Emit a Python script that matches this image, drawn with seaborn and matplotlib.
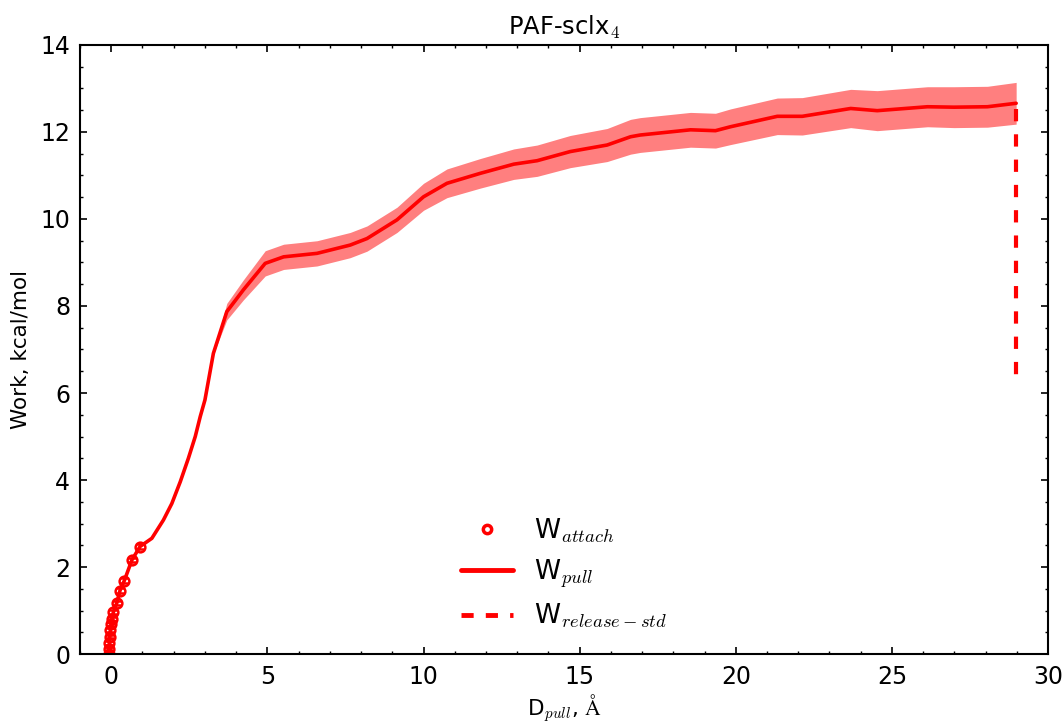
import numpy as np
import pandas as pd
import matplotlib
matplotlib.use("Agg")
import matplotlib.pyplot as plt
import seaborn as sns
from matplotlib.ticker import MultipleLocator
from matplotlib.lines import Line2D

# ---- data ----
attach_x = [-0.07, -0.07, -0.06, -0.05, -0.03, 0.0, 0.02, 0.07, 0.18, 0.28, 0.42, 0.66, 0.92]
attach_y = [0.0, 0.12, 0.25, 0.40, 0.55, 0.69, 0.80, 0.97, 1.18, 1.46, 1.69, 2.16, 2.47]
attach_err = [0.04, 0.04, 0.04, 0.04, 0.04, 0.04, 0.04, 0.05, 0.05, 0.05, 0.05, 0.05, 0.05]

pull_x = [0.92, 1.30, 1.67, 1.94, 2.21, 2.47, 2.69, 2.85, 3.0, 3.27, 3.70, 4.23, 4.93,
          5.52, 6.59, 7.65, 8.19, 9.15, 10.0, 10.75, 11.82, 12.89, 13.64, 14.7, 15.88,
          16.63, 16.94, 18.55, 19.35, 19.83, 21.33, 22.13, 23.68, 24.53, 26.14, 26.99,
          28.06, 28.98]
pull_y = [2.47, 2.66, 3.08, 3.46, 3.96, 4.50, 5.0, 5.46, 5.84, 6.91, 7.87, 8.37, 8.98,
          9.13, 9.21, 9.40, 9.55, 9.98, 10.51, 10.82, 11.05, 11.26, 11.34, 11.55, 11.70,
          11.89, 11.93, 12.05, 12.03, 12.12, 12.36, 12.36, 12.54, 12.49, 12.58, 12.57,
          12.58, 12.66]
pull_err = [0, 0, 0, 0, 0, 0, 0, 0, 0, 0.02, 0.19, 0.23, 0.29, 0.29, 0.29, 0.29, 0.29,
            0.29, 0.31, 0.33, 0.34, 0.35, 0.36, 0.37, 0.38, 0.40, 0.40, 0.40, 0.40, 0.41,
            0.42, 0.43, 0.44, 0.46, 0.46, 0.47, 0.47, 0.48]

release_x = [28.98, 28.98]
release_y = [12.52, 6.40]

title = "PAF-sclx$_4$"
xlabel = "D$_{pull}$, $\\mathrm{\\AA}$"
ylabel = "Work, kcal/mol"
labels = ["W$_{attach}$", "W$_{pull}$", "W$_{release-std}$"]

# ---- style ----
sns.set_theme(style="white")
plt.rcParams.update({
    "font.family": ["DejaVu Sans"],
    "mathtext.fontset": "cm",
    "text.color": "black",
    "axes.labelcolor": "black",
    "axes.titlecolor": "black",
    "xtick.color": "black",
    "ytick.color": "black",
    "axes.edgecolor": "black",
    "axes.linewidth": 1.5,
    "xtick.direction": "in",
    "ytick.direction": "in",
    "xtick.top": True,
    "ytick.right": True,
})

fig = plt.figure(figsize=(10.63, 7.23), dpi=100)
ax = fig.add_axes([0.0753, 0.0954, 0.9106, 0.8424])

# band
px = np.array(pull_x); py = np.array(pull_y); pe = np.array(pull_err)
ax.fill_between(px, py - pe, py + pe, where=pe > 0, color="red", alpha=0.5, lw=0,
                interpolate=False)

# release (drawn under the pull line)
sns.lineplot(x=release_x, y=release_y, ax=ax, color="red", lw=3, linestyle="--",
             sort=False, estimator=None, legend=False)
ax.lines[-1].set_dashes((2.95, 3.12))

# line through attach + pull
line_df = pd.DataFrame({"x": attach_x + pull_x[1:], "y": attach_y + pull_y[1:]})
sns.lineplot(data=line_df, x="x", y="y", ax=ax, color="red", lw=2.6, sort=False,
             estimator=None, legend=False)

# attach points
ax.errorbar(attach_x, attach_y, yerr=attach_err, fmt="o", mfc="none", mec="red",
            mew=1.8, ms=7, ecolor="red", elinewidth=1.2, capsize=3)

ax.set_xlim(-1, 30)
ax.set_ylim(0, 14)
ax.xaxis.set_major_locator(MultipleLocator(5))
ax.xaxis.set_minor_locator(MultipleLocator(1))
ax.yaxis.set_major_locator(MultipleLocator(2))
ax.yaxis.set_minor_locator(MultipleLocator(0.5))
ax.tick_params(which="major", length=5, width=1.2, labelsize=17, pad=7, colors="black")
ax.tick_params(which="minor", length=2.5, width=1, colors="black")
ax.tick_params(axis="both", which="both", direction="in", top=True, right=True,
               bottom=True, left=True)
ax.tick_params(axis="x", which="major", pad=8)

ax.set_xlabel(xlabel, fontsize=15.5, labelpad=2)
ax.set_ylabel(ylabel, fontsize=15.5, labelpad=7)
ax.set_title(title, fontsize=17.5, pad=7)

handles = [
    Line2D([], [], marker="o", ls="none", mfc="none", mec="red", mew=2.5, ms=6),
    Line2D([], [], color="red", lw=3.5),
    Line2D([], [], color="red", lw=3.5, dashes=(2.5, 2.5)),
]
ax.legend(handles, labels, loc="lower center", bbox_to_anchor=(0.5, 0.0),
          frameon=False, fontsize=19, numpoints=1, handlelength=2.0,
          handletextpad=0.8, labelspacing=0.45)

fig.savefig("out.png", dpi=100)
